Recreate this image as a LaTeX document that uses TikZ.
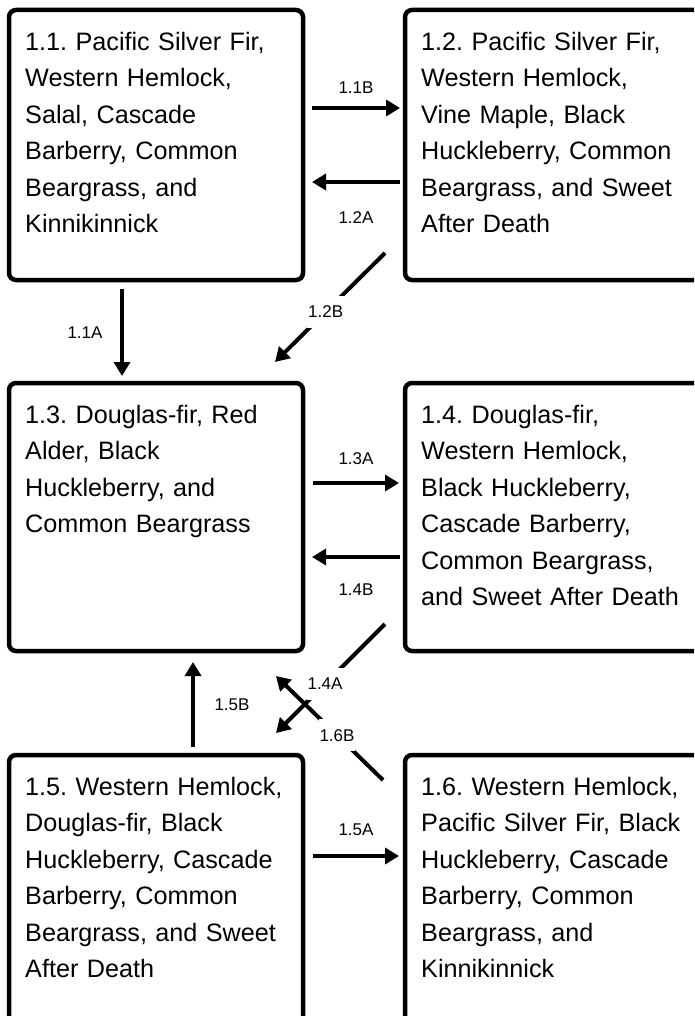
\documentclass[tikz,border=0pt]{standalone}
\usepackage{fontspec}
\setmainfont{Liberation Sans}
\usetikzlibrary{arrows.meta}
\frenchspacing

\begin{document}
\begin{tikzpicture}[x=1pt, y=-1pt,
        box/.style={draw, line width=4.5pt, rounded corners=7pt, anchor=north west,
        inner sep=0pt, outer sep=0pt},
        txt/.style={anchor=north west, inner sep=0pt, align=left, text width=290pt,
        font=\fontsize{25.2}{36.5}\selectfont},
        arr/.style={line width=4pt, -{Triangle[length=14pt, width=16pt]}},
        lbl/.style={font=\fontsize{17}{20}\selectfont, inner sep=1pt},
        cut/.style={lbl, fill=white, minimum height=32pt}]
        \useasboundingbox (0,0) rectangle (694,1016);
        \clip (0,0) rectangle (694,1016);

        \node[box, minimum width=294pt, minimum height=270pt] (b11) at (9,10) {};
        \node[box, minimum width=320pt, minimum height=270pt] (b12) at (405,10) {};
        \node[box, minimum width=294pt, minimum height=268pt] (b13) at (9,383) {};
        \node[box, minimum width=320pt, minimum height=268pt] (b14) at (405,383) {};
        \node[box, minimum width=294pt, minimum height=300pt] (b15) at (9,755) {};
        \node[box, minimum width=320pt, minimum height=300pt] (b16) at (405,755) {};

        \node[txt] (t11) at ([shift={(16,22)}]b11.north west) {1.1. Pacific Silver Fir,\\
            Western Hemlock,\\ Salal, Cascade\\ Barberry, Common\\ Beargrass, and\\ Kinnikinnick};
        \node[txt] (t12) at ([shift={(16,22)}]b12.north west) {1.2. Pacific Silver Fir,\\
            Western Hemlock,\\ Vine Maple, Black\\ Huckleberry, Common\\ Beargrass, and Sweet\\ After Death};
        \node[txt] (t13) at ([shift={(16,22)}]b13.north west) {1.3. Douglas-fir, Red\\
            Alder, Black\\ Huckleberry, and\\ Common Beargrass};
        \node[txt] (t14) at ([shift={(16,22)}]b14.north west) {1.4. Douglas-fir,\\
            Western Hemlock,\\ Black Huckleberry,\\ Cascade Barberry,\\ Common Beargrass,\\ and Sweet After Death};
        \node[txt] (t15) at ([shift={(16,22)}]b15.north west) {1.5. Western Hemlock,\\
            Douglas-fir, Black\\ Huckleberry, Cascade\\ Barberry, Common\\ Beargrass, and Sweet\\ After Death};
        \node[txt] (t16) at ([shift={(16,22)}]b16.north west) {1.6. Western Hemlock,\\
            Pacific Silver Fir, Black\\ Huckleberry, Cascade\\ Barberry, Common\\ Beargrass, and\\ Kinnikinnick};

        \draw[arr] ([shift={(9,98)}]b11.north east) -- ([shift={(-5,98)}]b12.north west)
            node[lbl, midway, yshift=20pt] {1.1B};
        \draw[arr] ([shift={(-5,172)}]b12.north west) -- ([shift={(9,172)}]b11.north east)
            node[lbl, midway, yshift=-36pt] {1.2A};
        \draw[arr] ([shift={(113,9)}]b11.south west) -- ([shift={(113,-7)}]b13.north west)
            node[lbl, midway, xshift=-37pt] {1.1A};
        \draw[arr] ([shift={(-20,-27)}]b12.south west) -- ([shift={(-28,-21)}]b13.north east)
            node[cut, pos=0.54] {1.2B};

        \draw[arr] ([shift={(10,100)}]b13.north east) -- ([shift={(-6,100)}]b14.north west)
            node[lbl, midway, yshift=24pt] {1.3A};
        \draw[arr] ([shift={(-5,174)}]b14.north west) -- ([shift={(9,174)}]b13.north east)
            node[lbl, midway, yshift=-33pt] {1.4B};
        \draw[arr] ([shift={(-20,-27)}]b14.south west) -- ([shift={(-27,-22)}]b15.north east)
            node[cut, pos=0.55] {1.4A};
        \draw[arr] ([shift={(-22,25)}]b16.north west) -- ([shift={(-27,25)}]b13.south east)
            node[cut, pos=0.43] {1.6B};
        \draw[arr] ([shift={(184,-8)}]b15.north west) -- ([shift={(184,11)}]b13.south west)
            node[lbl, midway, xshift=39pt] {1.5B};

        \draw[arr] ([shift={(10,101)}]b15.north east) -- ([shift={(-6,101)}]b16.north west)
            node[lbl, midway, yshift=26pt] {1.5A};
    \end{tikzpicture}
\end{document}
